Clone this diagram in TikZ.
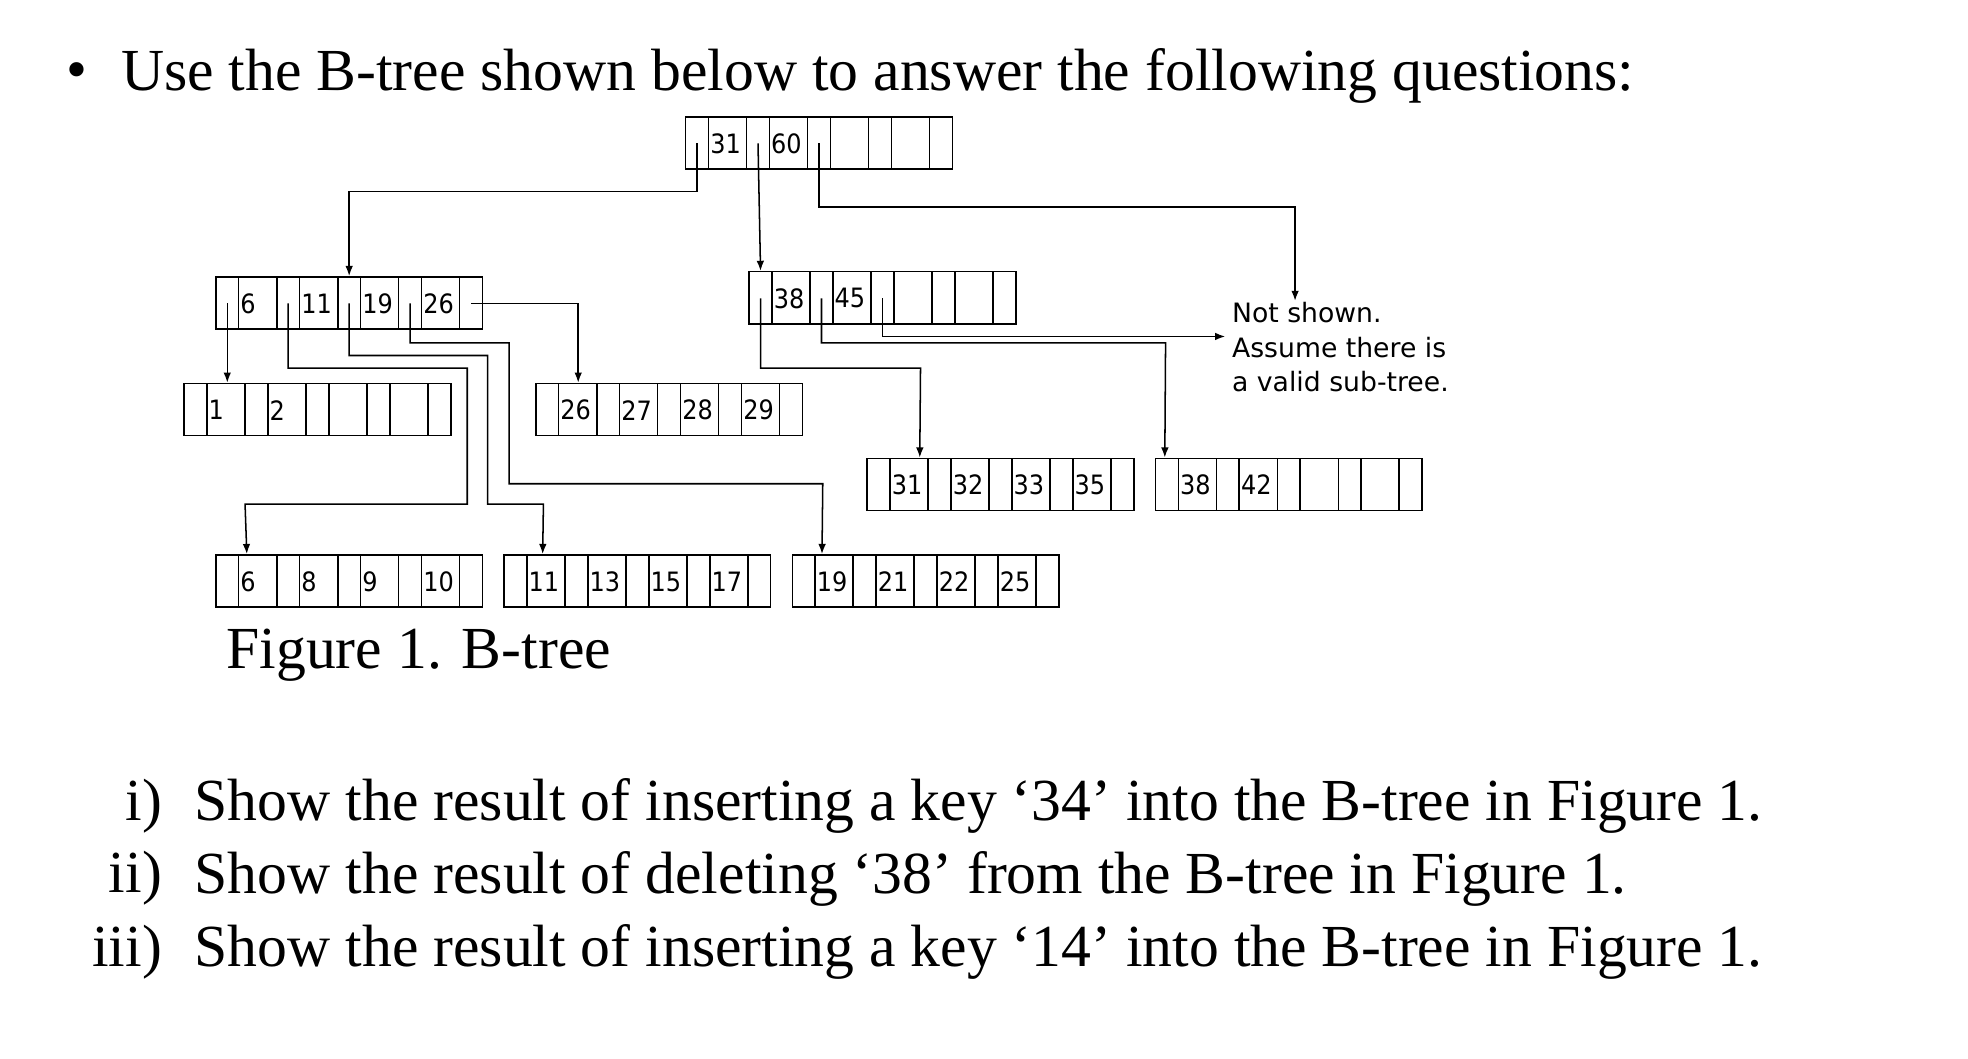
\documentclass[tikz,border=0pt]{standalone}
\usepackage{fontspec}
\usetikzlibrary{calc,arrows.meta}
\setmainfont{Liberation Serif}
\newfontfamily\keyfont{DejaVu Sans Condensed}
\newfontfamily\labfont{DejaVu Sans}
\tikzset{
 bnode/.style={draw,line width=0.6pt,minimum width=105pt,minimum height=20.5pt,inner sep=0pt},
 keylab/.style={anchor=west,inner sep=0pt,font=\keyfont\fontsize{10.5}{12}\selectfont},
 conn/.style={line width=0.6pt},
 arr/.style={conn,-{Latex[length=4pt,width=3pt]}},
 big/.style={inner sep=0pt,font=\fontsize{23.5}{28}\selectfont}
}
\begin{document}
\begin{tikzpicture}[x=0.5pt,y=-0.5pt]
\newcommand\bn[7]{%
 \node[bnode] (#1) at (#2+105,#3+20.5) {};
 \foreach \o in {18,48,66,96,114,144,162,192}{\draw[conn] (#2+\o,#3) -- (#2+\o,#3+41);}
 \node[keylab] (#1-k1) at (#2+19,#3+21) {#4};
 \node[keylab] (#1-k2) at (#2+67,#3+21) {#5};
 \node[keylab] (#1-k3) at (#2+115,#3+21) {#6};
 \node[keylab] (#1-k4) at (#2+163,#3+21) {#7};
 \coordinate (#1-p0) at (#2+9,#3+21);
 \coordinate (#1-p1) at (#2+57,#3+21);
 \coordinate (#1-p2) at (#2+105,#3+21);
 \coordinate (#1-p3) at (#2+153,#3+21);
 \coordinate (#1-p4) at (#2+201,#3+21);
}
\useasboundingbox (0,0) rectangle (1550,834);
\node[big,anchor=west] (bul) at (52,60) {\textbullet};
\node[big,anchor=west] (title) at (95,60) {Use the B-tree shown below to answer the following questions:};
\bn{root}{540}{92}{31}{60}{}{}
\bn{L}{170}{218}{6}{11}{19}{26}
\bn{R}{590}{214}{38}{45}{}{}
\bn{A}{145}{302}{1}{2}{}{}
\bn{B}{422}{302}{26}{27}{28}{29}
\bn{C}{683}{361}{31}{32}{33}{35}
\bn{D}{910}{361}{38}{42}{}{}
\bn{E}{170}{437}{6}{8}{9}{10}
\bn{F}{397}{437}{11}{13}{15}{17}
\bn{G}{624}{437}{19}{21}{22}{25}
\node[anchor=north west,align=left,inner sep=0pt,font=\labfont\fontsize{10.5}{13.5}\selectfont] (ns) at (970,238) {Not shown.\\Assume there is\\a valid sub-tree.};
\coordinate (nsT) at (1020,237);
\coordinate (nsL) at (965,265);
\draw[arr] (root-p0) -- ++(0,38) -| (L-p2 |- L.north);
\draw[arr] (root-p1) -- (R-p0 |- R.north);
\draw[arr] (root-p2) -- ++(0,50) -| (nsT);
\draw[arr] (L-p0) -- (L-p0 |- A.north);
\draw[arr] (L-p1) |- (368,290) |- (193,397) -- ($(E.north west)+(25,0)$);
\draw[arr] (L-p4) -| ($(B.north west)+(34,0)$);
\draw[arr] (L-p2) |- (384,280) |- (428,397) -- ($(F.north west)+(31,0)$);
\draw[arr] (L-p3) |- (401,270) |- (648,381) -- ($(G.north west)+(24,0)$);
\draw[arr] (R-p0) |- (725,290) -- ($(C.north west)+(42,0)$);
\draw[arr] (R-p1) |- (918,270) -- ($(D.north west)+(8,0)$);
\draw[arr] (R-p2) |- (nsL);
\node[big,anchor=west] (fig) at (178,516) {Figure 1. B-tree};
\node[big,anchor=east] (q1n) at (128,635) {i)};
\node[big,anchor=west] (q1) at (153,635) {Show the result of inserting a key ‘34’ into the B-tree in Figure 1.};
\node[big,anchor=east] (q2n) at (128,692) {ii)};
\node[big,anchor=west] (q2) at (153,692) {Show the result of deleting ‘38’ from the B-tree in Figure 1.};
\node[big,anchor=east] (q3n) at (128,750) {iii)};
\node[big,anchor=west] (q3) at (153,750) {Show the result of inserting a key ‘14’ into the B-tree in Figure 1.};
\end{tikzpicture}
\end{document}
